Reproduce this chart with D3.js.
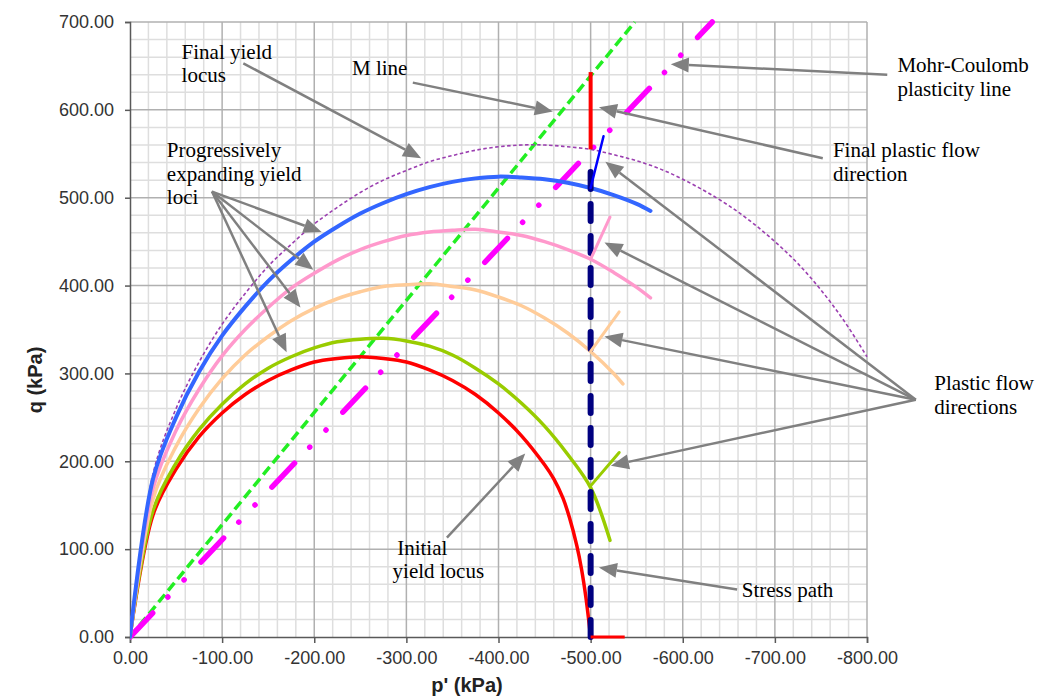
<!DOCTYPE html>
<html><head><meta charset="utf-8">
<script src="https://cdn.jsdelivr.net/npm/d3@7"></script>
<style>body{margin:0;background:#fff;} svg{display:block;}</style>
</head><body><svg id="c" width="1048" height="697"></svg>
<script>
// ---- axis ticks ----
const pTicks = [0, -100, -200, -300, -400, -500, -600, -700, -800];
const qTicks = [0, 100, 200, 300, 400, 500, 600, 700];

// ---- yield loci (p', q) in kPa ----
const initialLocus = [[0,0],[-25,139],[-50,191],[-75,228],[-100,255],[-125,276],[-150,292],[-175,304],[-200,313],[-225,317],[-250,319],[-275,317],[-300,313],[-325,304],[-350,292],[-375,276],[-400,255],[-425,229],[-450,196],[-460,180],[-470,158],[-477,136],[-485,104],[-490,78],[-495,44],[-500,0]];
const locus2 = [[0,0],[-25,144],[-50,198],[-75,236],[-100,265],[-125,288],[-150,306],[-175,319],[-200,329],[-225,336],[-250,339],[-275,340],[-300,337],[-325,331],[-350,321],[-375,306],[-400,288],[-425,266],[-450,240],[-475,208],[-500,170],[-521,110]];
const locus3 = [[0,0],[-25,157],[-50,217],[-75,260],[-100,294],[-125,321],[-150,342],[-175,360],[-200,374],[-225,385],[-250,393],[-275,399],[-300,401],[-325,402],[-350,399],[-375,395],[-400,387],[-425,377],[-450,363],[-475,346],[-500,325],[-525,300],[-535,288]];
const locus4 = [[0,0],[-25,169],[-50,235],[-75,282],[-100,320],[-125,350],[-150,375],[-175,397],[-200,414],[-225,429],[-250,441],[-275,450],[-300,457],[-325,461],[-350,463],[-375,464],[-400,461],[-425,457],[-450,450],[-475,441],[-500,430],[-525,415],[-550,398],[-565,386]];
const locus5 = [[0,0],[-25,180],[-50,250],[-75,302],[-100,343],[-125,376],[-150,405],[-175,429],[-200,450],[-225,467],[-250,482],[-275,494],[-300,504],[-325,512],[-350,518],[-375,522],[-400,524],[-425,523],[-450,521],[-475,517],[-500,511],[-525,503],[-550,493],[-565,485]];
const finalLocus = [[0,0],[-25,186],[-50,260],[-75,313],[-100,356],[-125,391],[-150,422],[-175,447],[-200,470],[-225,489],[-250,506],[-275,520],[-300,531],[-325,541],[-350,548],[-375,554],[-400,558],[-425,560],[-450,560],[-475,558],[-500,555],[-525,549],[-550,542],[-575,533],[-600,521],[-625,507],[-650,491],[-675,472],[-700,450],[-725,425],[-750,395],[-775,360],[-800,319]];

// ---- straight lines ----
const mLine = [[0,0],[-548,700]];
const mohrCoulombLine = [[0,0],[-632,700]];
const stressPath = [[-500,0],[-500,543]];
// plastic flow direction segments
const flowInitial = [[-500,0],[-537,0]];
const flow2 = [[-500,172],[-531,210]];
const flow3 = [[-500,325],[-531,370]];
const flow4 = [[-500,430],[-521,478]];
const flow5 = [[-500,511],[-514,570]];
const flowFinal = [[-500,555],[-500,643]];

// ---- annotations: text lines and arrows [tailP, tailQ, headP, headQ] ----
const labels = [
  {p:-56, q:658, lines:["Final yield","locus"]},
  {p:-241, q:640, lines:["M line"]},
  {p:-833, q:643, lines:["Mohr-Coulomb","plasticity line"]},
  {p:-763, q:546, lines:["Final plastic flow","direction"]},
  {p:-40, q:546, lines:["Progressively","expanding yield","loci"]},
  {p:-873, q:281, lines:["Plastic flow","directions"]},
  {p:-290, q:93, lines:["Initial"]},
  {p:-285, q:67, lines:["yield locus"]},
  {p:-664, q:46, lines:["Stress path"]}
];
const arrows = [
  [-123,653,-316,545],
  [-89,507,-208,461],[-89,507,-199,418],[-89,507,-185,375],[-89,507,-170,324],
  [-307,631,-459,598],
  [-822,640,-587,652],
  [-752,545,-509,603],
  [-853,270,-516,541],[-853,270,-515,449],[-853,270,-515,342],[-853,270,-522,195],
  [-344,113,-429,209],
  [-659,54,-509,79]
];

const svg = d3.select("#c");
const L=130, R=867, T=22, B=637;
const x = d3.scaleLinear().domain([0,-800]).range([L,R]);
const y = d3.scaleLinear().domain([0,700]).range([B,T]);

svg.append("rect").attr("width",1048).attr("height",697).attr("fill","#fff");

// grid
const minorP = d3.range(0,-801,-20), minorQ = d3.range(0,701,20);
const g = svg.append("g");
g.selectAll(".mx").data(minorP.filter(v=>v%100!==0)).join("line")
  .attr("x1",d=>x(d)).attr("x2",d=>x(d)).attr("y1",T).attr("y2",B)
  .attr("stroke","#dedede").attr("stroke-width",1.5);
g.selectAll(".my").data(minorQ.filter(v=>v%100!==0)).join("line")
  .attr("y1",d=>y(d)).attr("y2",d=>y(d)).attr("x1",L).attr("x2",R)
  .attr("stroke","#dedede").attr("stroke-width",1.5);
g.selectAll(".Mx").data(pTicks.slice(1)).join("line")
  .attr("x1",d=>x(d)).attr("x2",d=>x(d)).attr("y1",T).attr("y2",B)
  .attr("stroke","#b0b0b0").attr("stroke-width",1.5);
g.selectAll(".My").data(qTicks.slice(1)).join("line")
  .attr("y1",d=>y(d)).attr("y2",d=>y(d)).attr("x1",L).attr("x2",R)
  .attr("stroke","#b0b0b0").attr("stroke-width",1.5);

// axes
const fmt = d => d.toFixed(2);
const xAxis = svg.append("g").attr("transform",`translate(0,${B})`)
  .call(d3.axisBottom(x).tickValues(pTicks).tickFormat(fmt).tickSize(6).tickPadding(8));
const yAxis = svg.append("g").attr("transform",`translate(${L},0)`)
  .call(d3.axisLeft(y).tickValues(qTicks).tickFormat(fmt).tickSize(5).tickPadding(11));
[xAxis,yAxis].forEach(a=>{
  a.select(".domain").attr("stroke","#595959").attr("stroke-width",1.5);
  a.selectAll(".tick line").attr("stroke","#595959").attr("stroke-width",1.5);
  a.selectAll(".tick text").attr("font-family","Liberation Sans, Arial, sans-serif")
    .attr("font-size",18).attr("fill","#333");
});

svg.append("text").attr("x",467).attr("y",692).attr("text-anchor","middle")
  .attr("font-family","Liberation Sans, Arial, sans-serif").attr("font-weight","bold")
  .attr("font-size",20).attr("fill","#222").text("p' (kPa)");
svg.append("text").attr("transform","translate(42,380) rotate(-90)").attr("text-anchor","middle")
  .attr("font-family","Liberation Sans, Arial, sans-serif").attr("font-weight","bold")
  .attr("font-size",20).attr("fill","#222").text("q (kPa)");

// clip
svg.append("clipPath").attr("id","clip").append("rect")
  .attr("x",L).attr("y",T-3).attr("width",R-L+3).attr("height",B-T+6);
const plot = svg.append("g").attr("clip-path","url(#clip)");

const straight = d3.line().x(d=>x(d[0])).y(d=>y(d[1]));
const smooth = d3.line().x(d=>x(d[0])).y(d=>y(d[1])).curve(d3.curveCatmullRom.alpha(0.5));
function draw(data, color, w, dash, cap, gen){
  plot.append("path").datum(data).attr("d",(gen||straight)).attr("fill","none")
    .attr("stroke",color).attr("stroke-width",w)
    .attr("stroke-linecap",cap||"round").attr("stroke-linejoin","round")
    .attr("stroke-dasharray",dash||null);
}

draw(mLine,"#22ee22",3.5,"10,5","butt");
draw(mohrCoulombLine,"#ff00ff",5.5,"33,22,0.1,23.5,0.1,24.5","round");
draw(finalLocus,"#9b3fb0",1.6,"3.5,2.5","butt",smooth);
draw(initialLocus,"#ff0000",3.5,null,"round",smooth);
draw(locus2,"#99cc00",3.5,null,"round",smooth);
draw(locus3,"#ffcc99",3.5,null,"round",smooth);
draw(locus4,"#ff99cc",3.5,null,"round",smooth);
draw(locus5,"#3366ff",4,null,"round",smooth);
draw(stressPath,"#000080",6,"17,15","round");
draw(flowInitial,"#ff0000",3,null,"butt");
draw(flow2,"#99cc00",3);
draw(flow3,"#ffcc99",3);
draw(flow4,"#ff99cc",3);
draw(flow5,"#0000ff",2.5);
draw(flowFinal,"#ff0000",4,null,"butt");

// arrows
const ag = svg.append("g");
arrows.forEach(a=>{
  const x1=x(a[0]), y1=y(a[1]), x2=x(a[2]), y2=y(a[3]);
  const ang=Math.atan2(y2-y1,x2-x1), len=18, hw=7.5;
  const bx=x2-len*Math.cos(ang), by=y2-len*Math.sin(ang);
  ag.append("line").attr("x1",x1).attr("y1",y1).attr("x2",bx).attr("y2",by)
    .attr("stroke","#808080").attr("stroke-width",2.5);
  const px=-Math.sin(ang)*hw, py=Math.cos(ang)*hw;
  ag.append("path").attr("d",`M${x2},${y2}L${bx+px},${by+py}L${bx-px},${by-py}Z`)
    .attr("fill","#808080");
});

// labels
labels.forEach(l=>{
  const t = svg.append("text").attr("font-family","Liberation Serif, Times New Roman, serif")
    .attr("font-size",21).attr("fill","#000");
  l.lines.forEach((s,i)=>{
    t.append("tspan").attr("x",x(l.p)).attr("y",y(l.q)+i*23.5).text(s);
  });
});
</script></body></html>
